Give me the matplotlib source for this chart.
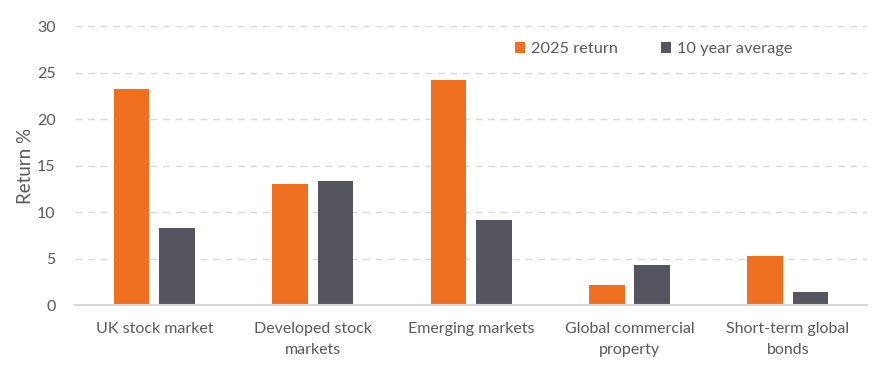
import numpy as np
import matplotlib
matplotlib.use('Agg')
import matplotlib.pyplot as plt

categories = ['UK stock market', 'Developed stock\nmarkets', 'Emerging markets',
              'Global commercial\nproperty', 'Short-term global\nbonds']
return_2025 = [23.2, 13.0, 24.2, 2.2, 5.3]
avg_10yr = [8.3, 13.4, 9.2, 4.4, 1.5]

orange = '#F07022'
grey = '#54555F'
text_col = '#595959'
grid_col = '#D9D9D9'

plt.rcParams['font.family'] = ['Lato', 'DejaVu Sans']
plt.rcParams['font.size'] = 11.5

fig = plt.figure(figsize=(8.83, 3.79), dpi=100)
ax = fig.add_axes([0.085, 0.194, 0.897, 0.737])

x = np.arange(len(categories))
w = 0.225
ax.bar(x - 0.143, return_2025, w, color=orange, label='2025 return', zorder=3)
ax.bar(x + 0.143, avg_10yr, w, color=grey, label='10 year average', zorder=3)

ax.set_xlim(-0.5, len(categories) - 0.5)
ax.set_ylim(0, 30)
ax.set_yticks(np.arange(0, 31, 5))
ax.set_xticks(x)
ax.set_xticklabels(categories, color=text_col, linespacing=1.65)
ax.tick_params(axis='y', colors=text_col, length=0, pad=14)
ax.tick_params(axis='x', colors=text_col, length=0, pad=12)
ax.set_ylabel('Return %', color=text_col, fontsize=13.5, labelpad=2)

ax.yaxis.grid(True, linestyle=(0, (5, 4)), color=grid_col, linewidth=1)
ax.set_axisbelow(True)
for s in ['top', 'right', 'left']:
    ax.spines[s].set_visible(False)
ax.spines['bottom'].set_color(grid_col)
ax.spines['bottom'].set_linewidth(1.5)
ax.spines['bottom'].set_zorder(4)

leg = ax.legend(loc='upper right', bbox_to_anchor=(0.925, 0.995), ncol=2, frameon=False,
                handlelength=0.6, handleheight=0.6, handletextpad=0.4, columnspacing=2.6,
                labelcolor=text_col, fontsize=11.8)

fig.savefig('out.png', dpi=100)
